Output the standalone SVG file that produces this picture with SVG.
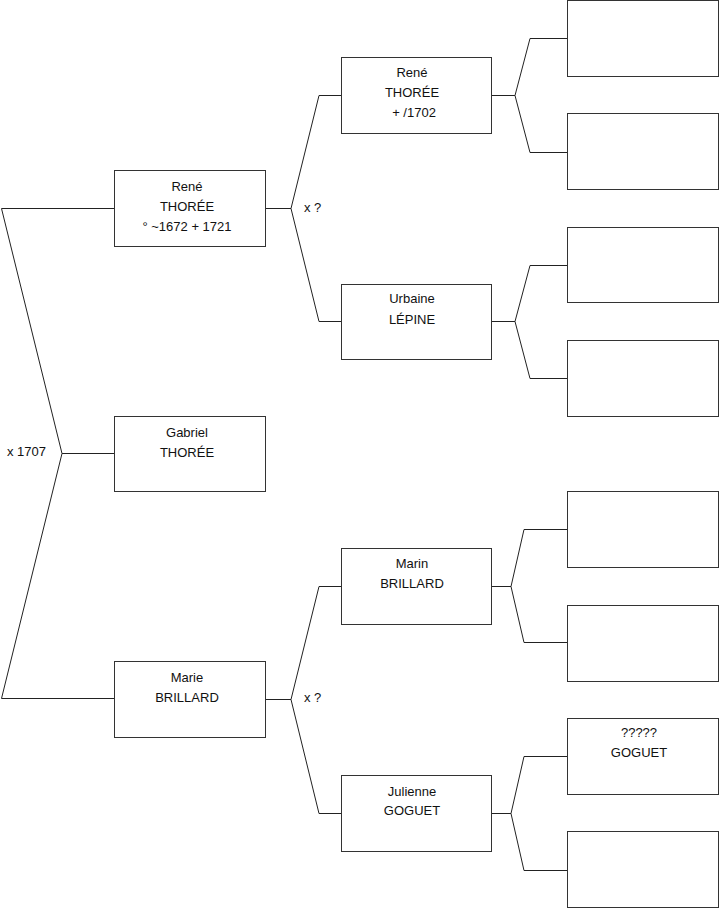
<svg xmlns="http://www.w3.org/2000/svg" width="719" height="908" viewBox="0 0 719 908">
<style>
.box{fill:#fff;stroke:#333;stroke-width:1}
.ln{fill:none;stroke:#222;stroke-width:1}
text{font-family:"Liberation Sans",Arial,sans-serif;font-size:13px;fill:#111;text-anchor:middle}
.lbl{text-anchor:start}
</style>
<rect width="719" height="908" fill="#fff"/>
<g id="connectors">
<polyline class="ln" points="114,208.5 1.5,208.5 62,453.5 1.5,698.5 114,698.5"/>
<line class="ln" x1="62" y1="453.5" x2="114" y2="453.5"/>
<polyline class="ln" points="341,95.5 319,95.5 291,208.5 319,321.5 341,321.5"/>
<line class="ln" x1="265" y1="208.5" x2="291" y2="208.5"/>
<polyline class="ln" points="341,586.5 319,586.5 291,699.5 319,813.5 341,813.5"/>
<line class="ln" x1="265" y1="699.5" x2="291" y2="699.5"/>
<polyline class="ln" points="567,38.5 530,38.5 515,95.5 530,152.5 567,152.5"/>
<line class="ln" x1="491" y1="95.5" x2="515" y2="95.5"/>
<polyline class="ln" points="567,265.5 530,265.5 515,321.5 530,378.5 567,378.5"/>
<line class="ln" x1="491" y1="321.5" x2="515" y2="321.5"/>
<polyline class="ln" points="567,529.5 524,529.5 511,586.5 524,642.5 567,642.5"/>
<line class="ln" x1="491" y1="586.5" x2="511" y2="586.5"/>
<polyline class="ln" points="567,756.5 524,756.5 511,813.5 524,870.5 567,870.5"/>
<line class="ln" x1="491" y1="813.5" x2="511" y2="813.5"/>
<text class="lbl" x="7" y="456">x 1707</text>
<text class="lbl" x="304" y="212">x ?</text>
<text class="lbl" x="304" y="702">x ?</text>
</g>
<g id="rene1">
<rect class="box" x="114.5" y="170.5" width="151" height="76"/>
<text x="187" y="191">René</text>
<text x="187" y="211">THORÉE</text>
<text x="187" y="231">° ~1672 + 1721</text>
</g>
<g id="gabriel">
<rect class="box" x="114.5" y="416.5" width="151" height="75"/>
<text x="187" y="437">Gabriel</text>
<text x="187" y="457">THORÉE</text>
</g>
<g id="marie">
<rect class="box" x="114.5" y="661.5" width="151" height="76"/>
<text x="187" y="682">Marie</text>
<text x="187" y="702">BRILLARD</text>
</g>
<g id="rene2">
<rect class="box" x="341.5" y="57.5" width="150" height="76"/>
<text x="412" y="77">René</text>
<text x="412" y="97">THORÉE</text>
<text x="414" y="117">+ /1702</text>
</g>
<g id="urbaine">
<rect class="box" x="341.5" y="284.5" width="150" height="75"/>
<text x="412" y="303">Urbaine</text>
<text x="412" y="324">LÉPINE</text>
</g>
<g id="marin">
<rect class="box" x="341.5" y="548.5" width="150" height="76"/>
<text x="412" y="568">Marin</text>
<text x="412" y="588">BRILLARD</text>
</g>
<g id="julienne">
<rect class="box" x="341.5" y="775.5" width="150" height="76"/>
<text x="412" y="796">Julienne</text>
<text x="412" y="815">GOGUET</text>
</g>
<g id="p1"><rect class="box" x="567.5" y="0.5" width="151" height="76"/></g>
<g id="p2"><rect class="box" x="567.5" y="113.5" width="151" height="76"/></g>
<g id="p3"><rect class="box" x="567.5" y="227.5" width="151" height="75"/></g>
<g id="p4"><rect class="box" x="567.5" y="340.5" width="151" height="76"/></g>
<g id="p5"><rect class="box" x="567.5" y="491.5" width="151" height="76"/></g>
<g id="p6"><rect class="box" x="567.5" y="605.5" width="151" height="76"/></g>
<g id="p7">
<rect class="box" x="567.5" y="718.5" width="151" height="76"/>
<text x="639" y="737">?????</text>
<text x="639" y="757">GOGUET</text>
</g>
<g id="p8"><rect class="box" x="567.5" y="831.5" width="151" height="76"/></g>
</svg>
